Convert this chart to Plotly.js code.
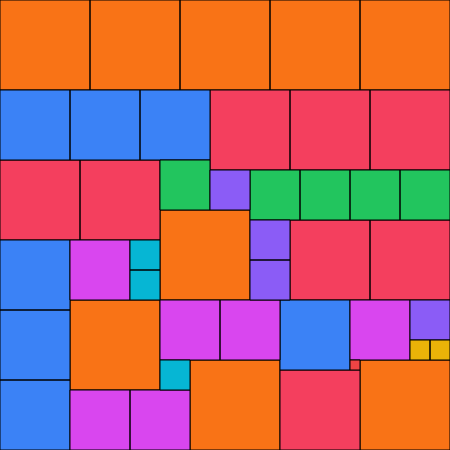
<!DOCTYPE html>
<html>
<head>
<meta charset="utf-8">
<script src="https://cdn.plot.ly/plotly-3.0.1.min.js"></script>
<style>html,body{margin:0;padding:0;background:#fff;}#chart{width:450px;height:450px;}</style>
</head>
<body>
<div id="chart"></div>
<script>
// Partridge tiling: square sizes and their top-left cell positions (grid units, side 45)
const sizes = [9,9,9,9,9,9,9,9,9, 8,8,8,8,8,8,8,8, 7,7,7,7,7,7,7, 6,6,6,6,6,6, 5,5,5,5,5, 4,4,4,4, 3,3,3, 2,2, 1];
const xs =    [0,9,18,27,36,16,7,19,36, 21,29,37,0,8,29,37,28, 0,7,14,0,0,0,28, 7,16,22,35,7,13, 16,25,30,35,40, 21,25,25,41, 13,13,16, 41,43, 35];
const ys =    [0,0,0,0,0,21,30,36,36, 9,9,9,16,16,22,22,37, 9,9,9,24,31,38,30, 24,30,30,30,39,39, 16,17,17,17,17, 17,22,26,30, 24,27,36, 34,34, 36];
const sizeColors = {9:'#F97316',8:'#F43F5E',7:'#3B82F6',6:'#D946EF',5:'#22C55E',4:'#8B5CF6',3:'#06B6D4',2:'#EAB308',1:'#EF4444'};

const traces = [];
[9,8,7,6,5,4,3,2,1].forEach(s => {
  const px = [], py = [];
  sizes.forEach((sz, i) => {
    if (sz !== s) return;
    const x0 = xs[i], y0 = ys[i];
    px.push(x0, x0 + sz, x0 + sz, x0, x0, null);
    py.push(y0, y0, y0 + sz, y0 + sz, y0, null);
  });
  traces.push({
    type: 'scatter', mode: 'lines', x: px, y: py, fill: 'toself',
    fillcolor: sizeColors[s], line: {color: '#000', width: 1},
    hoverinfo: 'skip', showlegend: false
  });
});

Plotly.newPlot('chart', traces, {
  width: 450, height: 450,
  margin: {l: 0, r: 0, t: 0, b: 0},
  paper_bgcolor: '#fff', plot_bgcolor: '#fff',
  xaxis: {range: [0, 45], visible: false, fixedrange: true},
  yaxis: {range: [45, 0], visible: false, fixedrange: true},
  showlegend: false
}, {staticPlot: true});
</script>
</body>
</html>
